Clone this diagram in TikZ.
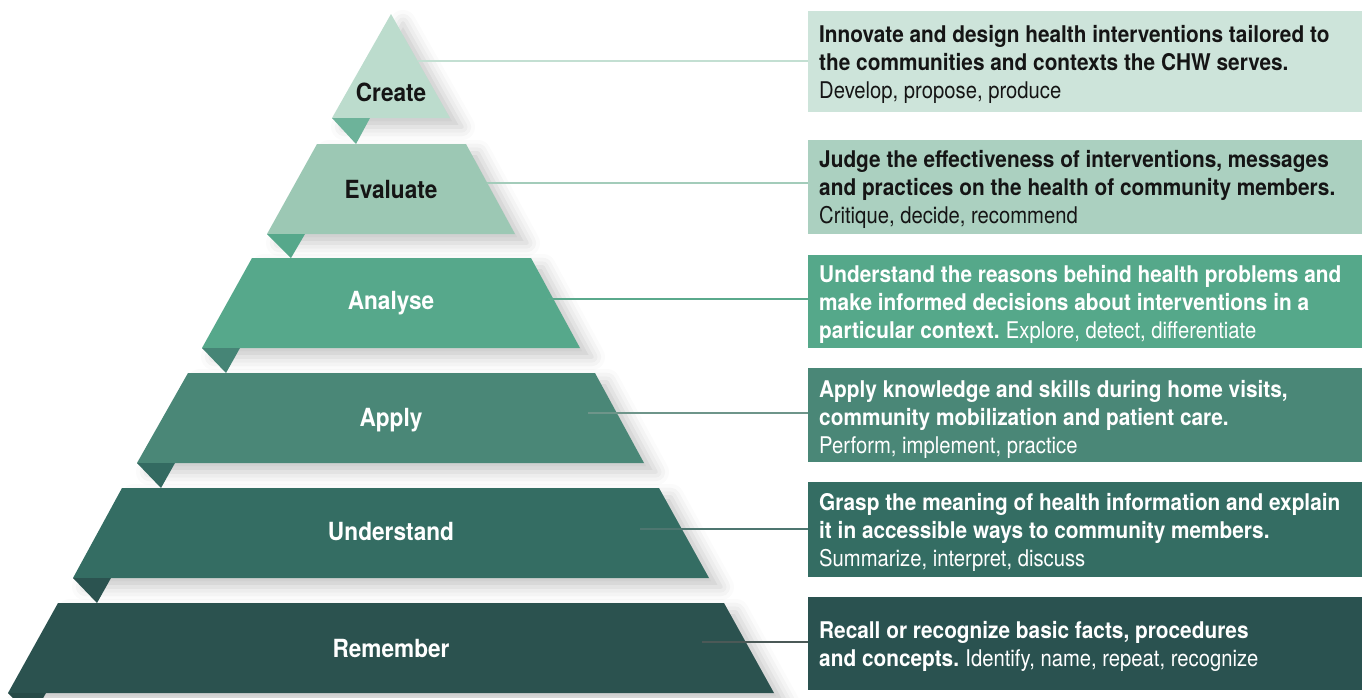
\documentclass[tikz,border=0pt]{standalone}
\usepackage{fontspec}
\setmainfont{TeX Gyre Heros}
\newfontfamily\condbold{TeX Gyre Heros}[FakeStretch=0.905]
\newfontfamily\condreg{TeX Gyre Heros}[FakeStretch=0.88]
\usetikzlibrary{shadows.blur}
\frenchspacing

\newcommand\bfpart[1]{{\condbold\bfseries #1}}
\newcommand\rgpart[1]{{\condreg #1}}

% tier colours, lightest (top) to darkest (bottom)
\definecolor{cCreate}{HTML}{BCDCCD}
\definecolor{cEvaluate}{HTML}{9CC8B4}
\definecolor{cAnalyse}{HTML}{56A88B}
\definecolor{cApply}{HTML}{4A8777}
\definecolor{cUnderstand}{HTML}{346D63}
\definecolor{cRemember}{HTML}{2B524F}
% description boxes
\definecolor{bCreate}{HTML}{CDE4DA}
\definecolor{bEvaluate}{HTML}{ABD0C0}
\definecolor{bAnalyse}{HTML}{55A88A}
\definecolor{bApply}{HTML}{4A8777}
\definecolor{bUnderstand}{HTML}{346D63}
\definecolor{bRemember}{HTML}{2A5250}
% folded corners
\definecolor{fCreate}{HTML}{6DB39A}
\definecolor{fEvaluate}{HTML}{56A88B}
\definecolor{fAnalyse}{HTML}{468576}
\definecolor{fApply}{HTML}{336A61}
\definecolor{fUnderstand}{HTML}{2B5350}
\definecolor{fRemember}{HTML}{264A47}
% leader lines
\definecolor{lCreate}{HTML}{C3DFD2}
\definecolor{lEvaluate}{HTML}{A3CCBA}
\definecolor{lAnalyse}{HTML}{5AA98C}
\definecolor{lApply}{HTML}{6E958A}
\definecolor{lUnderstand}{HTML}{4E7670}
\definecolor{lRemember}{HTML}{4B5957}
\definecolor{ink}{HTML}{151515}

\tikzset{
  tier/.style={blur shadow={shadow xshift=12pt, shadow yshift=-9pt,
      shadow opacity=22, shadow blur radius=13pt}},
  tierlabel/.style={inner sep=0pt,
      font=\condbold\bfseries\fontsize{25}{30}\selectfont},
  descbox/.style={rectangle, draw=none, inner sep=0pt, anchor=north west,
      minimum width=554pt},
  desctext/.style={inner sep=0pt, anchor=north west, align=left,
      font=\fontsize{23}{28}\selectfont},
  leader/.style={line width=2.5pt},
}

\begin{document}
\begin{tikzpicture}[x=1pt, y=-1pt]
\useasboundingbox (0,0) rectangle (1362,697);

% ---- pyramid tiers ----
\fill[tier, cCreate]     (391,14) -- (450,118) -- (332,118) -- cycle;
\fill[fCreate]           (332,118) -- (370,118) -- (356,144) -- cycle;
\fill[tier, cEvaluate]   (317,144) -- (466,144) -- (515,234) -- (267,234) -- cycle;
\fill[fEvaluate]         (267,234) -- (305,234) -- (291,258) -- cycle;
\fill[tier, cAnalyse]    (252,258) -- (531,258) -- (580,348) -- (202,348) -- cycle;
\fill[fAnalyse]          (202,348) -- (240,348) -- (226,373) -- cycle;
\fill[tier, cApply]      (188,373) -- (595,373) -- (644,463) -- (137,463) -- cycle;
\fill[fApply]            (137,463) -- (175,463) -- (161,488) -- cycle;
\fill[tier, cUnderstand] (122,488) -- (659,488) -- (709,578) -- (73,578) -- cycle;
\fill[fUnderstand]       (73,578) -- (111,578) -- (97,603) -- cycle;
\fill[tier, cRemember]   (58,603) -- (724,603) -- (774,693) -- (8,693) -- cycle;
\fill[fRemember]         (8,693) -- (46,693) -- (32,718) -- cycle;

% ---- description boxes ----
\node[descbox, fill=bCreate,     minimum height=101pt] (bC) at (808,11)  {};
\node[descbox, fill=bEvaluate,   minimum height=94pt]  (bE) at (808,140) {};
\node[descbox, fill=bAnalyse,    minimum height=93pt]  (bA) at (808,255) {};
\node[descbox, fill=bApply,      minimum height=94pt]  (bP) at (808,368) {};
\node[descbox, fill=bUnderstand, minimum height=95pt]  (bU) at (808,482) {};
\node[descbox, fill=bRemember,   minimum height=93pt]  (bR) at (808,597) {};

% ---- leader lines from tiers to boxes ----
\coordinate (sC) at (418,61);
\coordinate (sE) at (487,183);
\coordinate (sA) at (548,299);
\coordinate (sP) at (588,413);
\coordinate (sU) at (640,529);
\coordinate (sR) at (702,642);
\draw[leader, lCreate]     (sC) -- (sC -| bC.west);
\draw[leader, lEvaluate]   (sE) -- (sE -| bE.west);
\draw[leader, lAnalyse]    (sA) -- (sA -| bA.west);
\draw[leader, lApply]      (sP) -- (sP -| bP.west);
\draw[leader, lUnderstand] (sU) -- (sU -| bU.west);
\draw[leader, lRemember]   (sR) -- (sR -| bR.west);

% ---- tier labels ----
\node[tierlabel, text=ink]   (nC) at (391,92)  {Create};
\node[tierlabel, text=ink]   (nE) at (391,189) {Evaluate};
\node[tierlabel, text=white] (nA) at (391,303) {Analyse};
\node[tierlabel, text=white] (nP) at (391,420) {Apply};
\node[tierlabel, text=white] (nU) at (391,532) {Understand};
\node[tierlabel, text=white] (nR) at (391,648) {Remember};

% ---- box texts (top of first line given) ----
\node[desctext, text=ink] (tC) at (819,25.5) {%
  \bfpart{Innovate and design health interventions tailored to}\\
  \bfpart{the communities and contexts the CHW serves.}\\
  \rgpart{Develop, propose, produce}};
\node[desctext, text=ink] (tE) at (819,150.5) {%
  \bfpart{Judge the effectiveness of interventions, messages}\\
  \bfpart{and practices on the health of community members.}\\
  \rgpart{Critique, decide, recommend}};
\node[desctext, text=white] (tA) at (819,265) {%
  \bfpart{Understand the reasons behind health problems and}\\
  \bfpart{make informed decisions about interventions in a}\\
  \bfpart{particular context.} \rgpart{Explore, detect, differentiate}};
\node[desctext, text=white] (tP) at (819,380) {%
  \bfpart{Apply knowledge and skills during home visits,}\\
  \bfpart{community mobilization and patient care.}\\
  \rgpart{Perform, implement, practice}};
\node[desctext, text=white] (tU) at (819,493.5) {%
  \bfpart{Grasp the meaning of health information and explain}\\
  \bfpart{it in accessible ways to community members.}\\
  \rgpart{Summarize, interpret, discuss}};
\node[desctext, text=white] (tR) at (819,621.5) {%
  \bfpart{Recall or recognize basic facts, procedures}\\
  \bfpart{and concepts.} \rgpart{Identify, name, repeat, recognize}};
\end{tikzpicture}
\end{document}
